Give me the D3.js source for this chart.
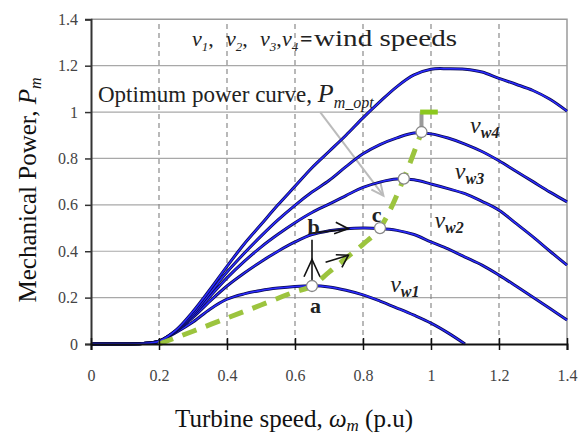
<!DOCTYPE html>
<html>
<head>
<meta charset="utf-8">
<script src="https://cdn.jsdelivr.net/npm/d3@7"></script>
<style>
  body { margin: 0; background: #fff; }
  text { font-family: "Liberation Serif", "DejaVu Serif", serif; }
</style>
</head>
<body>
<div id="chart"></div>
<script>
// Turbine power curves
const omega = [0, 0.1, 0.15, 0.2, 0.25, 0.3, 0.35, 0.4, 0.45, 0.5, 0.55, 0.6, 0.65, 0.7,
  0.75, 0.8, 0.85, 0.9, 0.95, 1.0, 1.05, 1.1, 1.15, 1.2, 1.25, 1.3, 1.35, 1.4];

const vw1 = [0, 0, 0.002, 0.012, 0.05, 0.095, 0.15, 0.193, 0.216, 0.231, 0.241, 0.248, 0.251, 0.246,
  0.232, 0.212, 0.185, 0.155, 0.124, 0.09, 0.048, 0]; // stops at 1.1
const vw2 = [0, 0, 0.002, 0.012, 0.055, 0.115, 0.185, 0.25, 0.305, 0.355, 0.40, 0.44, 0.472, 0.488,
  0.497, 0.50, 0.498, 0.49, 0.472, 0.44, 0.41, 0.375, 0.34, 0.297, 0.25, 0.202, 0.153, 0.103];
const vw3 = [0, 0, 0.002, 0.012, 0.056, 0.122, 0.205, 0.285, 0.355, 0.418, 0.473, 0.523, 0.567, 0.603,
  0.64, 0.675, 0.698, 0.711, 0.708, 0.69, 0.67, 0.648, 0.615, 0.577, 0.52, 0.462, 0.40, 0.34];
const vw4 = [0, 0, 0.002, 0.012, 0.058, 0.13, 0.22, 0.31, 0.39, 0.465, 0.535, 0.598, 0.655, 0.705,
  0.765, 0.82, 0.86, 0.889, 0.91, 0.906, 0.888, 0.862, 0.83, 0.79, 0.745, 0.70, 0.655, 0.613];
const vwTop = [0, 0, 0.002, 0.012, 0.06, 0.14, 0.235, 0.335, 0.43, 0.515, 0.60, 0.68, 0.76, 0.83,
  0.90, 0.975, 1.045, 1.11, 1.16, 1.185, 1.187, 1.185, 1.173, 1.145, 1.12, 1.093, 1.055, 1.004];

// optimum power curve (green dashes)
const optOmega = [0.2, 0.3, 0.4, 0.5, 0.6, 0.65, 0.7, 0.75, 0.8, 0.85, 0.92, 0.972];
const optPower = [0, 0.055, 0.112, 0.168, 0.225, 0.25, 0.31, 0.37, 0.43, 0.5, 0.713, 0.914];

// operating points (white circles)
const pointOmega = [0.65, 0.85, 0.92, 0.972];
const pointPower = [0.25, 0.5, 0.713, 0.914];

const tickVals = [0, 0.2, 0.4, 0.6, 0.8, 1, 1.2, 1.4];
const gridVals = [0.2, 0.4, 0.6, 0.8, 1, 1.2];

const curveLabels = [
  { sub: "w1", w: 0.88, p: 0.224 },
  { sub: "w2", w: 1.01, p: 0.50 },
  { sub: "w3", w: 1.07, p: 0.713 },
  { sub: "w4", w: 1.115, p: 0.91 }
];

const width = 582, height = 440;
const x = d3.scaleLinear().domain([0, 1.4]).range([91, 567]);
const y = d3.scaleLinear().domain([0, 1.4]).range([344, 19.3]);

const svg = d3.select("#chart").append("svg")
  .attr("width", width).attr("height", height);

// grid
svg.append("g").selectAll("line").data(gridVals).enter().append("line")
  .attr("x1", x(0)).attr("x2", x(1.4))
  .attr("y1", d => y(d)).attr("y2", d => y(d))
  .attr("stroke", "#a8a8a8").attr("stroke-width", 1.2);
svg.append("g").selectAll("line").data(gridVals).enter().append("line")
  .attr("x1", d => x(d)).attr("x2", d => x(d))
  .attr("y1", y(0)).attr("y2", y(1.4))
  .attr("stroke", "#8a8a8a").attr("stroke-width", 1.2)
  .attr("stroke-dasharray", "5,4");
// frame top/right
svg.append("path")
  .attr("d", `M${x(0)},${y(1.4)}H${x(1.4)}V${y(0)}`)
  .attr("fill", "none").attr("stroke", "#9a9a9a").attr("stroke-width", 1.5);

// annotation texts (under the curves)
const topNote = svg.append("text").attr("y", 46).attr("font-size", 22).attr("fill", "#222");
[["1", ",", 192], ["2", ",", 226], ["3", ",", 260], ["4", "", 282]].forEach(([s, sep, px]) => {
  topNote.append("tspan").attr("x", px).attr("y", 46).attr("font-style", "italic").text("v");
  topNote.append("tspan").attr("font-style", "italic").attr("font-size", 13).attr("dy", 5).text(s);
  topNote.append("tspan").attr("dy", -5).text(sep);
});
topNote.append("tspan").attr("x", 300).attr("y", 46).attr("font-weight", "bold").text("=");
svg.append("text").attr("x", 314).attr("y", 46).attr("font-size", 23).attr("fill", "#222")
  .attr("textLength", 143).attr("lengthAdjust", "spacingAndGlyphs").text("wind speeds");

const optNote = svg.append("text").attr("x", 98).attr("y", 102).attr("font-size", 23).attr("fill", "#222");
optNote.append("tspan").text("Optimum power curve, ");
optNote.append("tspan").attr("font-style", "italic").attr("font-size", 26).text("P");
optNote.append("tspan").attr("font-style", "italic").attr("font-size", 16).attr("dy", 6).text("m_opt");

// gray arrow to optimum curve
svg.append("line")
  .attr("x1", x(0.674)).attr("y1", y(1.0)).attr("x2", x(0.86)).attr("y2", y(0.64))
  .attr("stroke", "#bbb").attr("stroke-width", 2);
svg.append("path")
  .attr("d", `M${x(0.86) - 12},${y(0.64) - 6}L${x(0.86)},${y(0.64)}L${x(0.86) - 3},${y(0.64) - 13}`)
  .attr("fill", "none").attr("stroke", "#bbb").attr("stroke-width", 2);

// power curves
const line = d3.line()
  .x(d => x(d[0])).y(d => y(d[1]))
  .curve(d3.curveCatmullRom);

const series = [vw1, vw2, vw3, vw4, vwTop];
series.forEach(vals => {
  const pts = vals.map((v, i) => [omega[i], v]);
  svg.append("path").attr("d", line(pts))
    .attr("fill", "none").attr("stroke", "#0a0a50").attr("stroke-width", 3);
  svg.append("path").attr("d", line(pts))
    .attr("fill", "none").attr("stroke", "#2b2bff").attr("stroke-width", 1.5);
});

// optimum curve
const optLine = d3.line().x(d => x(d[0])).y(d => y(d[1])).curve(d3.curveMonotoneX);
svg.append("path")
  .attr("d", optLine(optOmega.map((w, i) => [w, optPower[i]])))
  .attr("fill", "none").attr("stroke", "#9cc43e").attr("stroke-width", 5)
  .attr("stroke-dasharray", "15,10");
svg.append("line")
  .attr("x1", x(0.972)).attr("x2", x(0.972)).attr("y1", y(0.93)).attr("y2", y(0.995))
  .attr("stroke", "#9a9a9a").attr("stroke-width", 4);
svg.append("line")
  .attr("x1", x(0.968)).attr("x2", x(1.02)).attr("y1", y(1.0)).attr("y2", y(1.0))
  .attr("stroke", "#8cc81e").attr("stroke-width", 5);

// black arrows a->b, b->c, a->c
const arrows = svg.append("g").attr("stroke", "#111").attr("stroke-width", 1.6).attr("fill", "none");
arrows.append("line").attr("x1", x(0.65)).attr("x2", x(0.65)).attr("y1", y(0.27)).attr("y2", y(0.45));
arrows.append("path").attr("d", `M${x(0.65) - 8},${y(0.29)}L${x(0.65)},${y(0.365)}L${x(0.65) + 8},${y(0.29)}`);
arrows.append("line").attr("x1", x(0.64)).attr("x2", x(0.757)).attr("y1", y(0.476)).attr("y2", y(0.497));
arrows.append("path").attr("d", `M${x(0.72)},${y(0.525)}L${x(0.757)},${y(0.497)}L${x(0.715)},${y(0.475)}`);
arrows.append("line").attr("x1", x(0.69)).attr("x2", x(0.757)).attr("y1", y(0.352)).attr("y2", y(0.383));
arrows.append("path").attr("d", `M${x(0.72)},${y(0.385)}L${x(0.757)},${y(0.383)}L${x(0.738)},${y(0.33)}`);

// operating points
svg.append("g").selectAll("circle").data(pointOmega).enter().append("circle")
  .attr("cx", d => x(d)).attr("cy", (d, i) => y(pointPower[i])).attr("r", 5.5)
  .attr("fill", "#fff").attr("stroke", "#888").attr("stroke-width", 1.3);

// point letters
[["a", 0.66, 0.135], ["b", 0.655, 0.475], ["c", 0.84, 0.525]].forEach(([t, w, p]) => {
  svg.append("text").attr("x", x(w)).attr("y", y(p)).attr("text-anchor", "middle")
    .attr("font-size", 22).attr("font-weight", "bold").attr("fill", "#222").text(t);
});

// curve labels
curveLabels.forEach(d => {
  const t = svg.append("text").attr("x", x(d.w)).attr("y", y(d.p))
    .attr("font-size", 24).attr("font-style", "italic").attr("fill", "#222");
  t.append("tspan").text("v");
  t.append("tspan").attr("font-size", 16).attr("font-weight", "bold").attr("dy", 5).text(d.sub);
});

// axes
const fmt = d => String(+d.toFixed(1));
const yAxis = svg.append("g").attr("transform", `translate(${x(0)},0)`)
  .call(d3.axisLeft(y).tickValues(tickVals).tickFormat(fmt).tickSize(6).tickPadding(7));
yAxis.attr("font-family", "Liberation Serif").attr("font-size", null);
yAxis.select(".domain").attr("stroke", "#333").attr("stroke-width", 2);
yAxis.selectAll(".tick line").attr("stroke", "#333").attr("stroke-width", 1.5);
yAxis.selectAll("text").attr("font-size", 16).attr("fill", "#444")
  .attr("font-family", "Liberation Serif");

const xAxis = svg.append("g").attr("transform", `translate(0,${y(0)})`)
  .call(d3.axisBottom(x).tickValues(tickVals).tickFormat(fmt).tickSize(6).tickPadding(20));
xAxis.attr("font-family", "Liberation Serif").attr("font-size", null);
xAxis.select(".domain").attr("stroke", "#111").attr("stroke-width", 2);
xAxis.selectAll(".tick line").attr("y1", -6).attr("stroke", "#111").attr("stroke-width", 1.5);
xAxis.selectAll("text").attr("font-size", 16).attr("fill", "#444")
  .attr("font-family", "Liberation Serif");

// axis titles
const xt = svg.append("text").attr("x", 294).attr("y", 427).attr("text-anchor", "middle")
  .attr("font-size", 25).attr("fill", "#111");
xt.append("tspan").text("Turbine speed, ");
xt.append("tspan").attr("font-style", "italic").text("ω");
xt.append("tspan").attr("font-style", "italic").attr("font-size", 17).attr("dy", 4).text("m");
xt.append("tspan").attr("dy", -4).text(" (p.u)");

const yt = svg.append("text").attr("transform", "translate(36,190) rotate(-90)")
  .attr("text-anchor", "middle").attr("font-size", 25).attr("fill", "#111");
yt.append("tspan").text("Mechanical Power, ");
yt.append("tspan").attr("font-style", "italic").text("P");
yt.append("tspan").attr("font-style", "italic").attr("font-size", 16).attr("dy", 5).text("m");
</script>
</body>
</html>
